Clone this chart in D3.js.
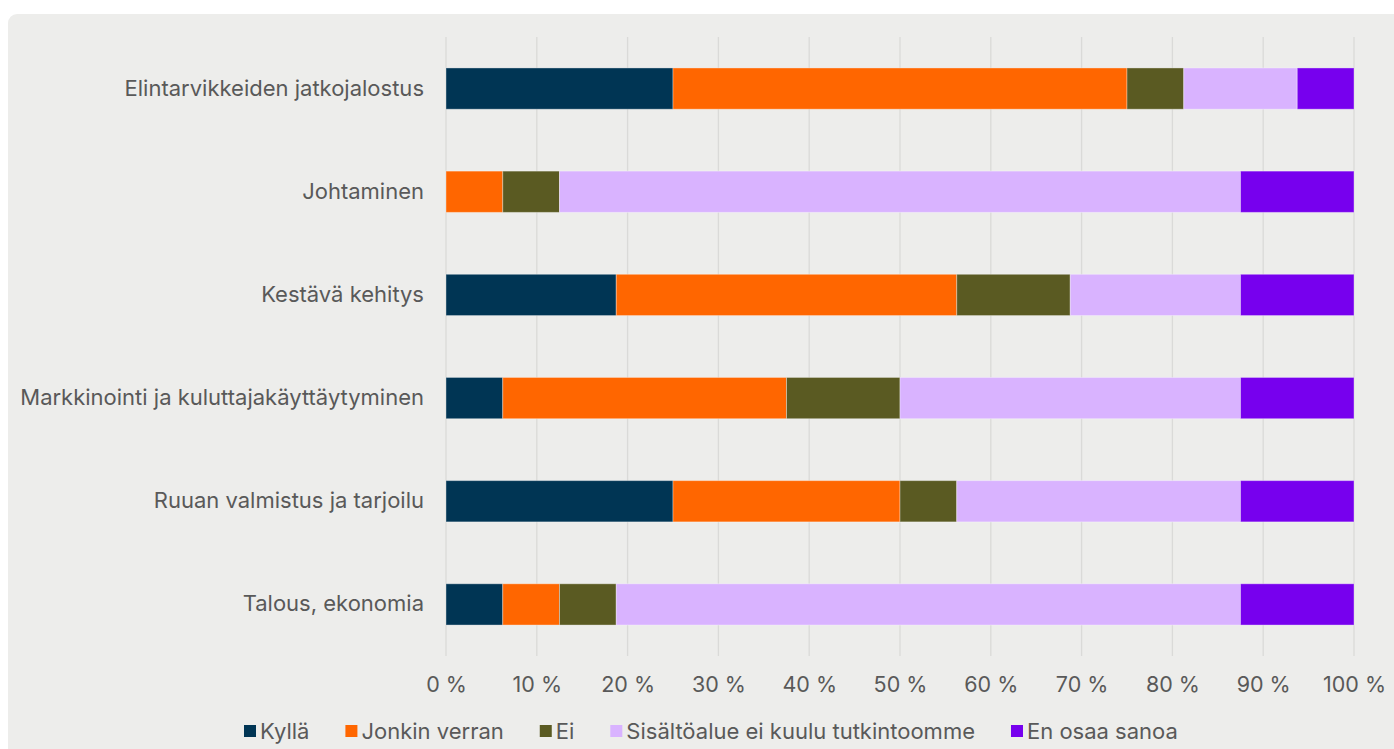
<!DOCTYPE html>
<html>
<head>
<meta charset="utf-8">
<script src="https://cdn.jsdelivr.net/npm/d3@7"></script>
<style>
  body { margin: 0; background: #ffffff; font-family: Inter, "Noto Sans", sans-serif; }
  #chart { width: 1394px; height: 749px; }
</style>
</head>
<body>
<div id="chart"></div>
<script>
const categories = [
  "Elintarvikkeiden jatkojalostus",
  "Johtaminen",
  "Kestävä kehitys",
  "Markkinointi ja kuluttajakäyttäytyminen",
  "Ruuan valmistus ja tarjoilu",
  "Talous, ekonomia"
];
const seriesNames = ["Kyllä", "Jonkin verran", "Ei", "Sisältöalue ei kuulu tutkintoomme", "En osaa sanoa"];
const seriesColors = ["#003554", "#ff6600", "#5a5a22", "#d9b3ff", "#7700ee"];

// percentage per category, one array per series
const kylla    = [25, 0, 18.75, 6.25, 25, 6.25];
const jonkin   = [50, 6.25, 37.5, 31.25, 25, 6.25];
const ei       = [6.25, 6.25, 12.5, 12.5, 6.25, 6.25];
const sisalto  = [12.5, 75, 18.75, 37.5, 31.25, 68.75];
const enOsaa   = [6.25, 12.5, 12.5, 12.5, 12.5, 12.5];
const xTicks = [0, 10, 20, 30, 40, 50, 60, 70, 80, 90, 100];

const w = 1394, h = 749;
const plotLeft = 446, plotRight = 1354, plotTop = 37, plotBottom = 656;

const rows = categories.map((c, i) => ({
  cat: c,
  "Kyllä": kylla[i],
  "Jonkin verran": jonkin[i],
  "Ei": ei[i],
  "Sisältöalue ei kuulu tutkintoomme": sisalto[i],
  "En osaa sanoa": enOsaa[i]
}));

const svg = d3.select("#chart").append("svg")
  .attr("width", w)
  .attr("height", h);

// panel
svg.append("rect")
  .attr("x", 8).attr("y", 14)
  .attr("width", w + 20).attr("height", h + 20)
  .attr("rx", 9)
  .attr("fill", "#ededeb");

const x = d3.scaleLinear().domain([0, 100]).range([plotLeft, plotRight]);
const y = d3.scaleBand().domain(categories).range([plotTop, plotBottom]).paddingInner(0.6).paddingOuter(0.3);

// gridlines
svg.append("g")
  .selectAll("line")
  .data(xTicks)
  .enter().append("line")
  .attr("x1", d => x(d)).attr("x2", d => x(d))
  .attr("y1", plotTop).attr("y2", plotBottom)
  .attr("stroke", "#dadad8")
  .attr("stroke-width", 1.3);

const stack = d3.stack().keys(seriesNames);
const layers = stack(rows);

svg.append("g")
  .selectAll("g")
  .data(layers)
  .enter().append("g")
  .attr("fill", (d, i) => seriesColors[i])
  .selectAll("rect")
  .data(d => d.filter(p => p[1] - p[0] > 0))
  .enter().append("rect")
  .attr("x", d => x(d[0]))
  .attr("y", d => y(d.data.cat))
  .attr("width", d => x(d[1]) - x(d[0]))
  .attr("height", y.bandwidth())
  .attr("stroke", "rgba(255,255,255,0.35)")
  .attr("stroke-width", 1);

// category labels
const yAxis = d3.axisLeft(y).tickSize(0).tickPadding(22);
const yg = svg.append("g")
  .attr("transform", `translate(${plotLeft},0)`)
  .call(yAxis);
yg.select(".domain").remove();
yg.selectAll("text")
  .attr("fill", "#595959")
  .style("font-family", "Inter, sans-serif")
  .style("font-size", "22px");

// x axis labels
const xAxis = d3.axisBottom(x).tickValues(xTicks).tickSize(0).tickPadding(21)
  .tickFormat(d => d + " %");
const xg = svg.append("g")
  .attr("transform", `translate(0,${plotBottom})`)
  .call(xAxis);
xg.select(".domain").remove();
xg.selectAll("text")
  .attr("fill", "#595959")
  .style("font-family", "Inter, sans-serif")
  .style("font-size", "21.5px");

// legend
const legend = svg.append("g").attr("transform", "translate(0,731)");
const items = legend.selectAll("g")
  .data(seriesNames)
  .enter().append("g");
items.append("rect")
  .attr("width", 12).attr("height", 12)
  .attr("y", -6)
  .attr("fill", (d, i) => seriesColors[i]);
items.append("text")
  .attr("x", 16)
  .attr("dy", "0.35em")
  .attr("fill", "#595959")
  .style("font-family", "Inter, sans-serif")
  .style("font-size", "22px")
  .text(d => d);

let pos = 0;
const offsets = [];
items.each(function() {
  offsets.push(pos);
  pos += 16 + this.querySelector("text").getComputedTextLength() + 36;
});
items.attr("transform", (d, i) => `translate(${244 + offsets[i]},0)`);
</script>
</body>
</html>
